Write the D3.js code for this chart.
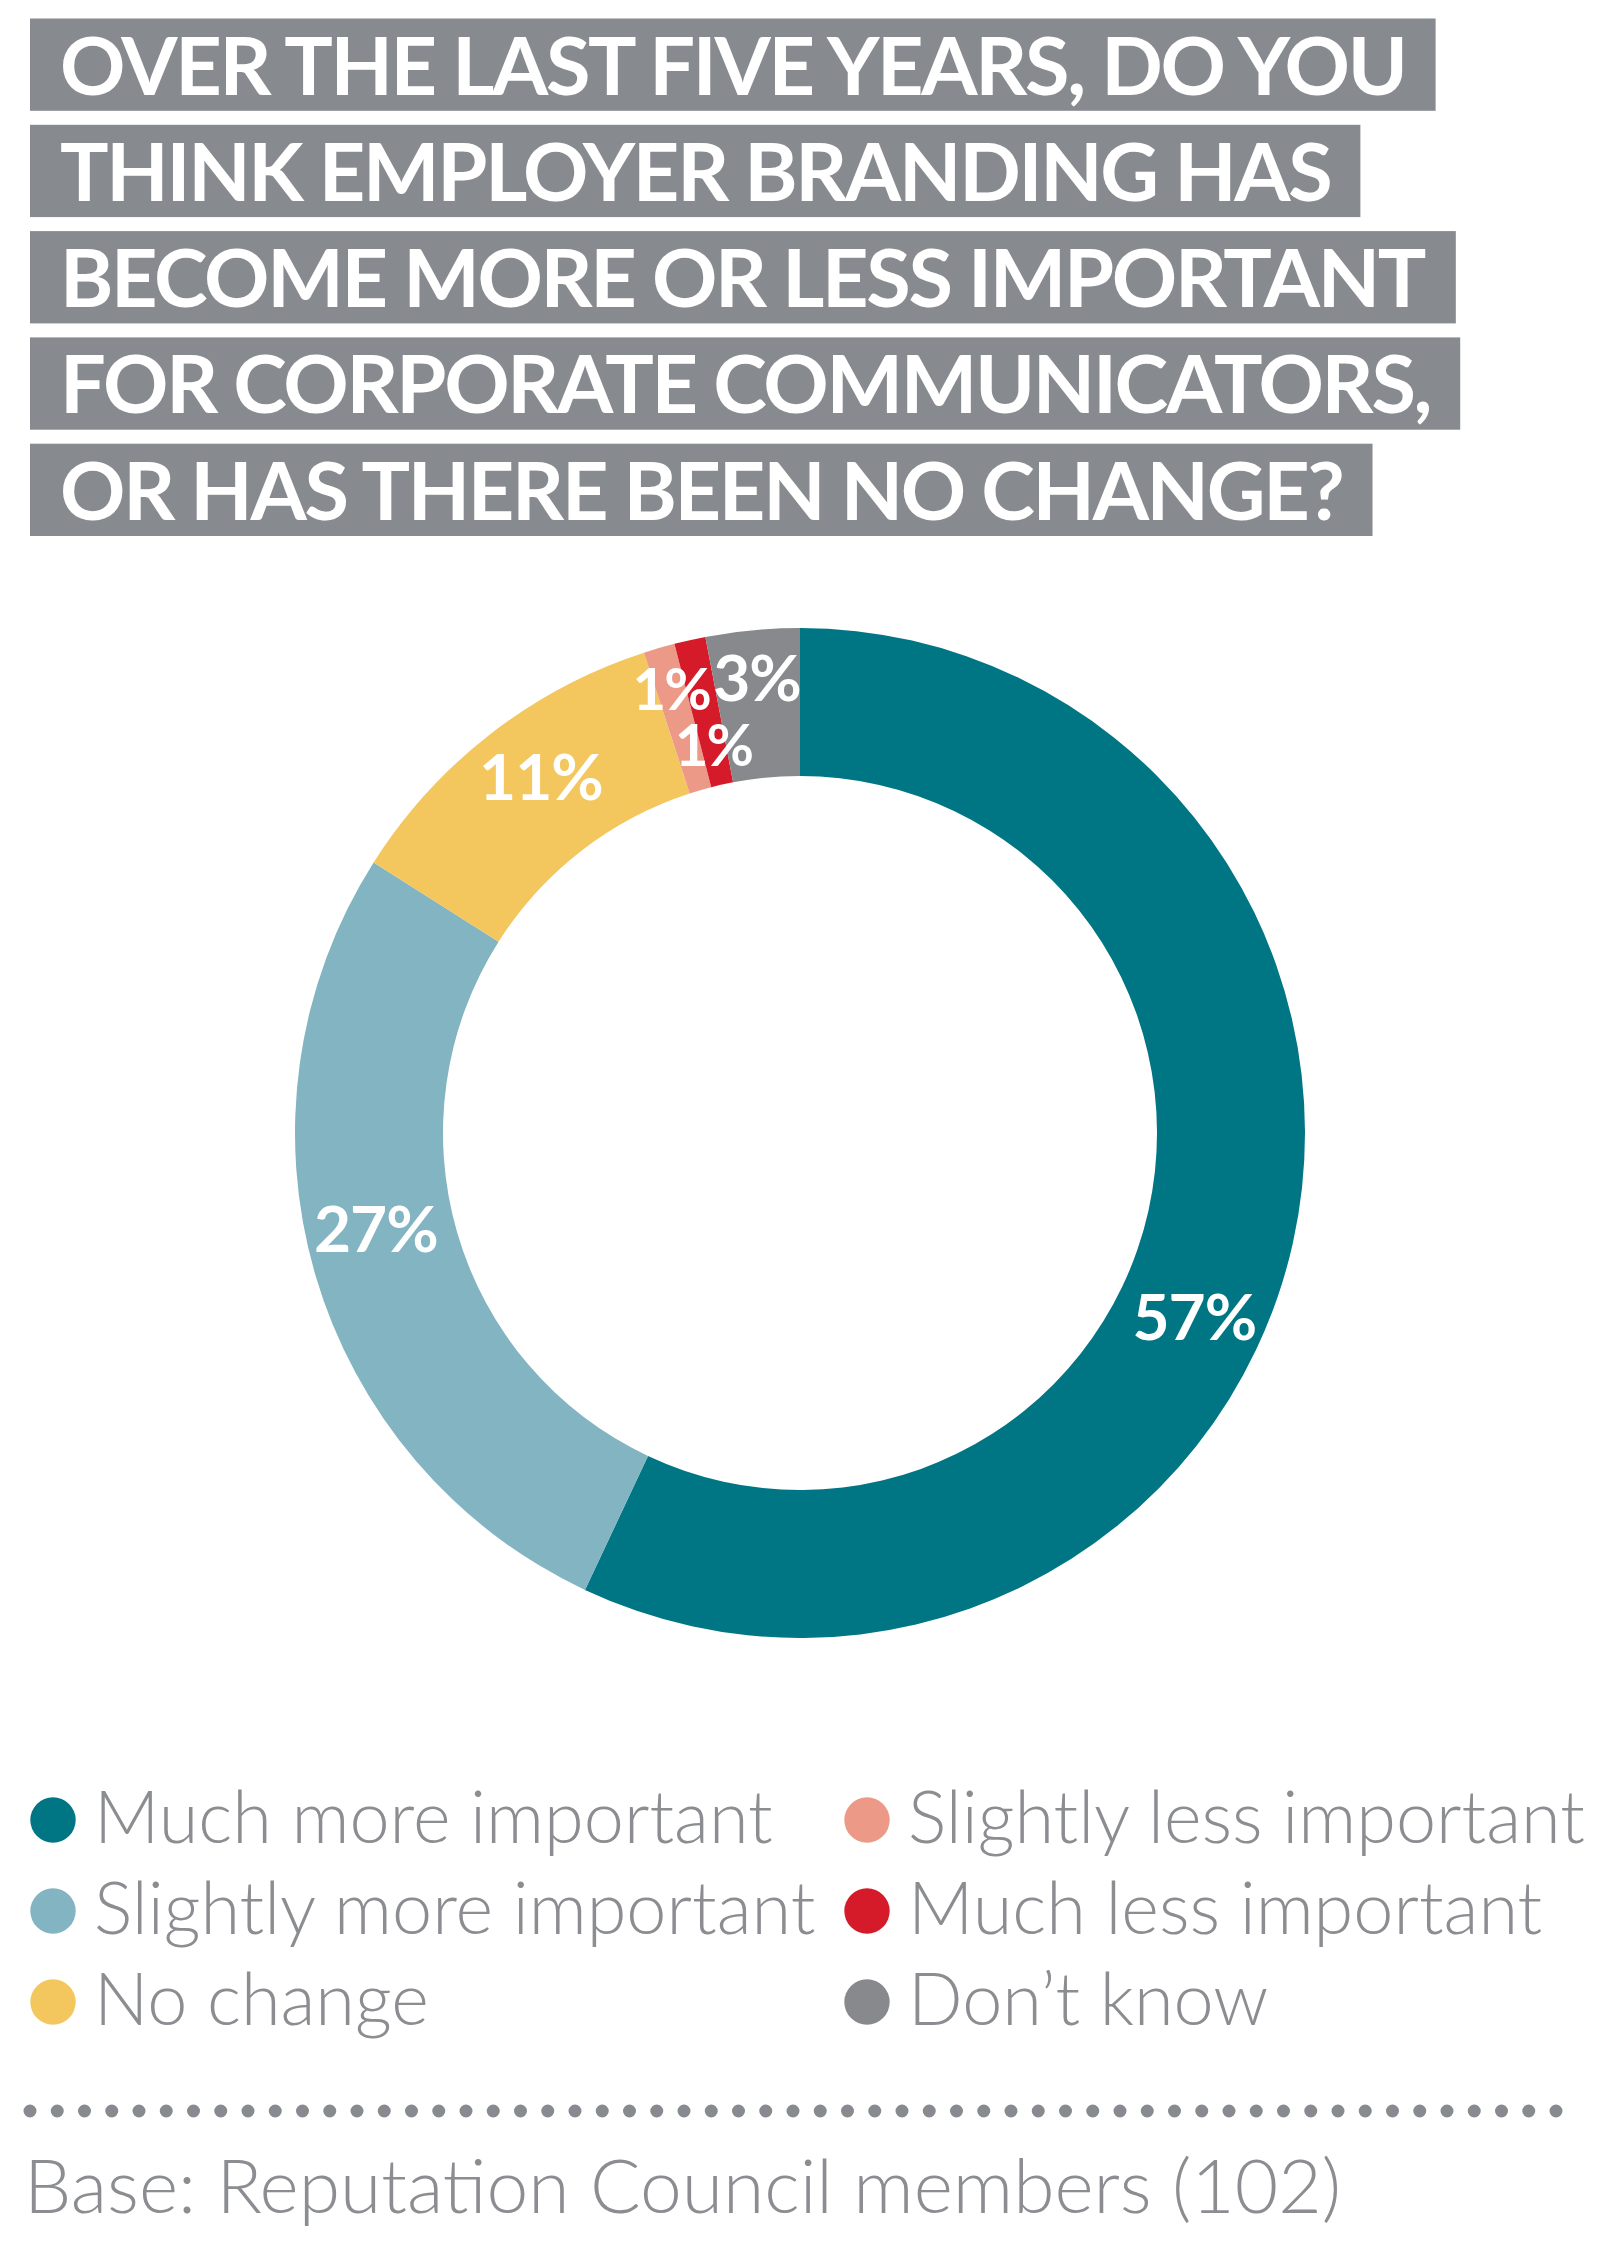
<!DOCTYPE html>
<html>
<head>
<meta charset="utf-8">
<script src="https://cdn.jsdelivr.net/npm/d3@7"></script>
<style>
  html, body { margin: 0; padding: 0; background: #fff; }
  svg { display: block; font-family: Lato, "Open Sans", sans-serif; }
</style>
</head>
<body>
<div id="chart"></div>
<script>
const width = 1600;
const height = 2266;

// data
const titleLines = [
    "OVER THE LAST FIVE YEARS, DO YOU",
    "THINK EMPLOYER BRANDING HAS",
    "BECOME MORE OR LESS IMPORTANT",
    "FOR CORPORATE COMMUNICATORS,",
    "OR HAS THERE BEEN NO CHANGE?"
];
const categories = [
    "Much more important",
    "Slightly more important",
    "No change",
    "Slightly less important",
    "Much less important",
    "Don\u2019t know"
];
const values = [57, 27, 11, 1, 1, 3];
const colors = ["#007685", "#82b4c1", "#f3c75d", "#ec9a87", "#d51b2a", "#87898d"];
const footnote = "Base: Reputation Council members (102)";

const grey = "#878a8f";
const textGrey = "#8b8d91";

const svg = d3.select("#chart")
    .append("svg")
    .attr("width", width)
    .attr("height", height);

// title bars
const title = svg.append("g").attr("class", "title");
titleLines.forEach((line, i) => {
    const top = 18.5 + i * 106.3;
    const g = title.append("g");
    const bar = g.append("rect")
        .attr("x", 30)
        .attr("y", top)
        .attr("height", 92.3)
        .attr("fill", grey);
    const t = g.append("text")
        .attr("x", 60)
        .attr("y", top + 76)
        .attr("fill", "#fff")
        .attr("font-size", 81)
        .attr("font-weight", 700)
        .attr("letter-spacing", -2.3)
        .text(line);
    const bb = t.node().getBBox();
    bar.attr("width", bb.x + bb.width);
});

// donut
const cx = 800, cy = 1133;
const outerR = 505, innerR = 357;

const pie = d3.pie().sort(null).value(d => d);
const arcs = pie(values);
const arc = d3.arc().innerRadius(innerR).outerRadius(outerR);

const donut = svg.append("g").attr("transform", `translate(${cx},${cy})`);

donut.selectAll("path")
    .data(arcs)
    .enter()
    .append("path")
    .attr("d", arc)
    .attr("fill", (d, i) => colors[i]);

// label radius / angle nudges, as placed in the original
function labelPos(d, i) {
    let a = (d.startAngle + d.endAngle) / 2;
    let r = (innerR + outerR) / 2 + 4;
    if (i === 0) a += 0.216;
    if (i === 1) a += 0.06;
    if (i === 2) { a += 0.03; r = 440; }
    if (i === 3) r = 462;
    if (i === 4) r = 397;
    if (i === 5) r = 457;
    return [Math.sin(a) * r, -Math.cos(a) * r];
}

donut.selectAll("text")
    .data(arcs)
    .enter()
    .append("text")
    .attr("transform", (d, i) => `translate(${labelPos(d, i)})`)
    .attr("text-anchor", "middle")
    .attr("dy", "0.36em")
    .attr("fill", "#fff")
    .attr("font-size", d => d.data < 3 ? 58 : 64)
    .attr("font-weight", 700)
    .attr("letter-spacing", d => d.data < 3 ? -2 : -1)
    .text(d => d.data + "%");

// legend
const colX = d3.scalePoint().domain([0, 1]).range([53, 867]);
const rowY = d3.scalePoint().domain([0, 1, 2]).range([1820, 2002]);

const legend = svg.append("g").attr("class", "legend")
    .selectAll("g")
    .data(categories)
    .enter()
    .append("g")
    .attr("transform", (d, i) => `translate(${colX(Math.floor(i / 3))},${rowY(i % 3)})`);

legend.append("circle")
    .attr("r", 22.7)
    .attr("fill", (d, i) => colors[i]);

legend.append("text")
    .attr("x", 41)
    .attr("dy", "0.32em")
    .attr("fill", textGrey)
    .attr("font-size", 72)
    .attr("font-weight", 300)
    .text(d => d);

// dotted rule
svg.append("line")
    .attr("x1", 30)
    .attr("x2", 1557)
    .attr("y1", 2111)
    .attr("y2", 2111)
    .attr("stroke", grey)
    .attr("stroke-width", 13)
    .attr("stroke-linecap", "round")
    .attr("stroke-dasharray", "0 27.25");

svg.append("text")
    .attr("x", 24)
    .attr("y", 2213)
    .attr("fill", textGrey)
    .attr("font-size", 75)
    .attr("font-weight", 300)
    .text(footnote);
</script>
</body>
</html>
